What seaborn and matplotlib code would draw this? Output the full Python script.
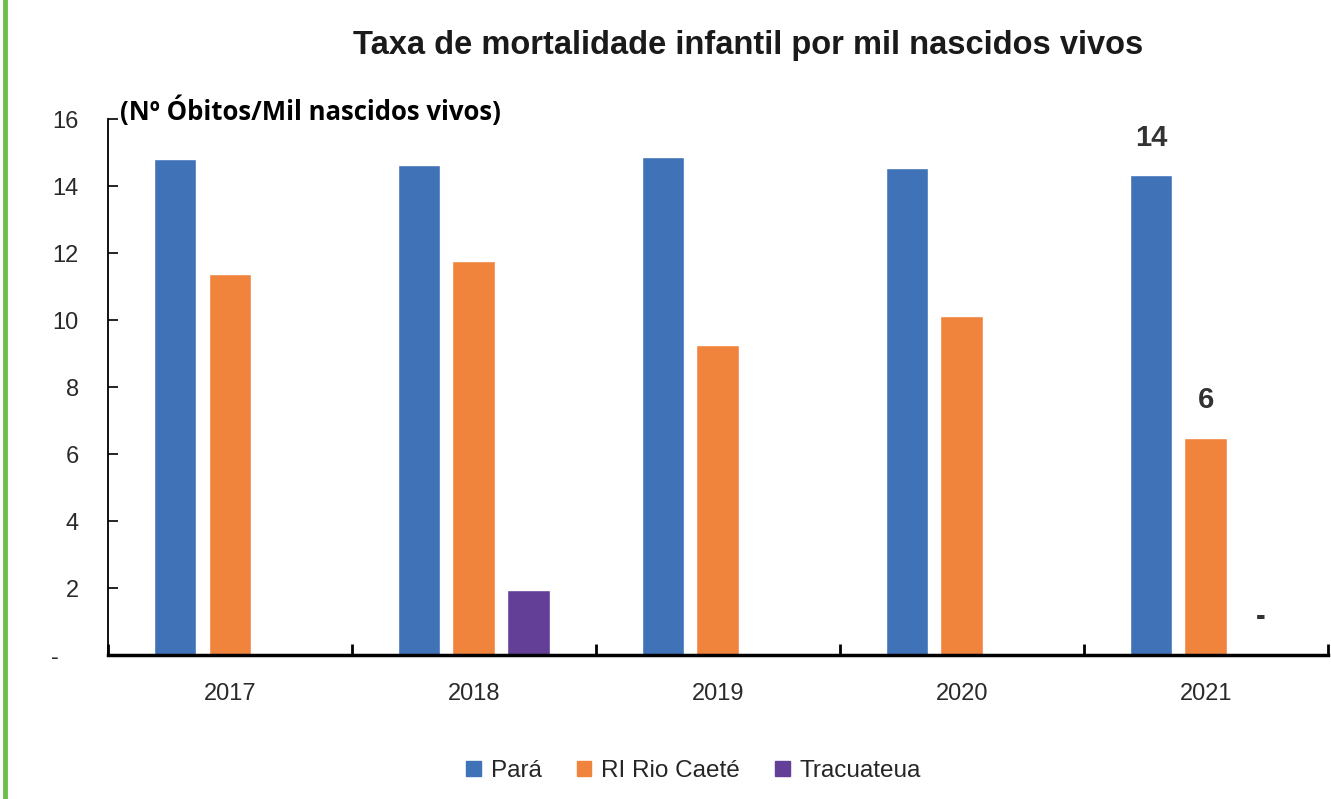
import numpy as np
import pandas as pd
import matplotlib
matplotlib.use("Agg")
import matplotlib.pyplot as plt
from matplotlib.lines import Line2D
import seaborn as sns

#%% data
anos = ["2017", "2018", "2019", "2020", "2021"]
para = [14.8, 14.63, 14.87, 14.54, 14.33]
rio_caete = [11.37, 11.76, 9.25, 10.12, 6.48]
tracuateua = [0, 1.94, 0, 0, 0]
series = ["Pará", "RI Rio Caeté", "Tracuateua"]
cores = ["#4072B8", "#F0843D", "#643F97"]

df = pd.DataFrame({"ano": anos * 3,
                   "valor": para + rio_caete + tracuateua,
                   "serie": np.repeat(series, len(anos))})

#%% plot
sns.set_style("white")
plt.rcParams["font.family"] = ["Liberation Sans", "DejaVu Sans"]

fig = plt.figure(figsize=(13.31, 7.99), dpi=100)
ax = fig.add_axes([0.0811, 0.1802, 0.9166, 0.6706])

sns.barplot(data=df, x="ano", y="valor", hue="serie", palette=cores,
            width=0.676, gap=0.22, ax=ax, saturation=1)

ax.set_ylim(0, 16)
ax.set_xlim(-0.5, 4.5)
ax.set_yticks(range(0, 17, 2))
ax.set_yticklabels(["-   "] + [str(v) for v in range(2, 17, 2)], fontsize=17, color="#2a2a2a")
ax.tick_params(axis="y", left=True, direction="in", length=7, width=1.2, pad=21, color="black")
ax.set_xticks(np.arange(-0.5, 5, 1), minor=True)
ax.tick_params(axis="x", which="minor", bottom=True, direction="in", length=8, width=2, color="black")
ax.tick_params(axis="x", which="major", bottom=False, length=0, labelsize=17,
               labelcolor="#2a2a2a", pad=20)
ax.set_xlabel("")
ax.set_ylabel("")
for s in ["top", "right"]:
    ax.spines[s].set_visible(False)
ax.spines["left"].set_linewidth(1.3)
ax.spines["bottom"].set_linewidth(2.5)
ax.spines["left"].set_color("black")
ax.spines["bottom"].set_color("black")

# rótulos 2021
for cont in ax.containers:
    rot = ["" for _ in cont]
    v = cont.datavalues[-1]
    rot[-1] = f"{v:.0f}" if v > 0 else "-"
    ax.bar_label(cont, labels=rot, padding=17, fontsize=21, fontweight="bold", color="#333333")

ax.legend(handles=[plt.Rectangle((0, 0), 1, 1, color=c) for c in cores], labels=series,
          loc="upper center", bbox_to_anchor=(0.48, -0.155), ncol=3, frameon=False,
          fontsize=17.5, handlelength=0.6, handleheight=0.6, handletextpad=0.4, columnspacing=1.45)

fig.text(0.562, 0.943, "Taxa de mortalidade infantil por mil nascidos vivos",
         ha="center", va="center", fontsize=23.5, fontweight="bold", color="#1a1a1a")
fig.text(0.09, 0.862, "(Nº Óbitos/Mil nascidos vivos)", ha="left", va="center",
         fontsize=18.5, fontweight="bold", family=["Open Sans", "DejaVu Sans"], color="black")

fig.add_artist(Line2D([0.004, 0.004], [0, 1], color="#6ABF4B", linewidth=3.5,
                      transform=fig.transFigure))

fig.savefig("out.png", dpi=100)
